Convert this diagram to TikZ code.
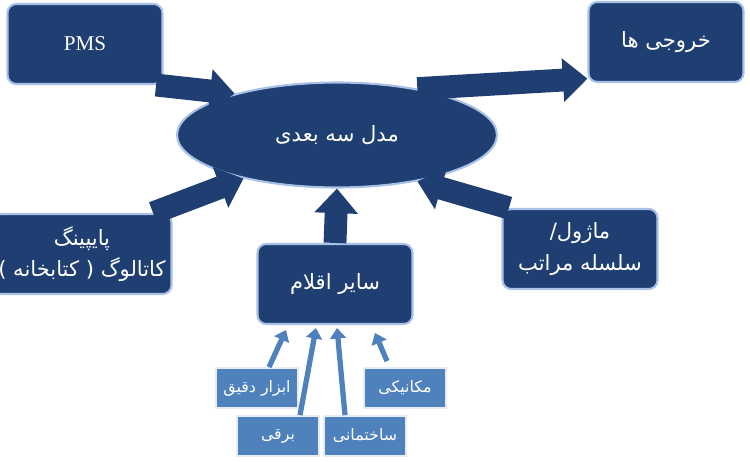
\documentclass[tikz,border=0pt]{standalone}
\usepackage{fontspec}
\setmainfont{Liberation Serif}
\newfontfamily\fa[Script=Arabic]{DejaVu Sans}
\TeXXeTstate=1
\usetikzlibrary{arrows.meta,shapes.geometric}
\definecolor{darkbox}{HTML}{1F3F73}
\definecolor{edgebox}{HTML}{A9C1E6}
\definecolor{lightbox}{HTML}{4F81BD}
\tikzset{
  bigbox/.style={draw=edgebox, line width=1.2pt, fill=darkbox, rounded corners=5pt,
    text=white, minimum width=3.1cm, minimum height=1.6cm, align=center, font=\large},
  smallbox/.style={draw=white!85!lightbox, line width=1pt, fill=lightbox,
    text=white, minimum width=1.65cm, minimum height=0.8cm, font=\small},
  bigarrow/.style={draw=darkbox, line width=13pt, -{Triangle[length=14pt,width=24pt]}},
  thinarrow/.style={draw=lightbox, line width=3pt, -{Triangle[length=6pt,width=9pt]}},
}
\begin{document}
\begin{tikzpicture}[x=0.02cm, y=-0.02cm]
  \useasboundingbox (0,0) rectangle (750,462);
  \node[bigbox] (pms) at (85,44) {PMS};
  \node[bigbox] (out) at (666,42) {\fa\beginR خروجی ها\endR};
  \node[ellipse, draw=edgebox, line width=1.2pt, fill=darkbox, text=white,
    minimum width=6.4cm, minimum height=2.1cm, font=\large] (model) at (337,135)
    {\fa\beginR مدل سه بعدی\endR};
  \node[bigbox] (pipe) at (82,254) {\fa\beginR پایپینگ\endR\\[4pt]\fa\beginR کاتالوگ ( کتابخانه )\endR};
  \node[bigbox] (mod) at (580,249) {\fa\beginR ماژول/\endR\\[4pt]\fa\beginR سلسله مراتب\endR};
  \node[bigbox] (misc) at (335,284) {\fa\beginR سایر اقلام\endR};

  \node[smallbox] (inst) at (257,388) {\fa\beginR ابزار دقیق\endR};
  \node[smallbox] (elec) at (278,436) {\fa\beginR برقی\endR};
  \node[smallbox] (civil) at (365,436) {\fa\beginR ساختمانی\endR};
  \node[smallbox] (mech) at (405,388) {\fa\beginR مکانیکی\endR};

  \draw[bigarrow] (pms.-30) -- (model.158);
  \draw[bigarrow] (model.30) -- (out.-155);
  \draw[bigarrow] (pipe.30) -- (model.-155);
  \draw[bigarrow] (mod.150) -- (model.-30);
  \draw[bigarrow] (misc.north) -- (model.south);

  \draw[thinarrow] (inst.north) ++(12,0) -- (286,330);
  \draw[thinarrow] (elec.north) ++(22,0) -- (316,328);
  \draw[thinarrow] (civil.north) ++(-20,0) -- (337,328);
  \draw[thinarrow] (mech.north) ++(-18,-6) -- (375,333);
\end{tikzpicture}
\end{document}
